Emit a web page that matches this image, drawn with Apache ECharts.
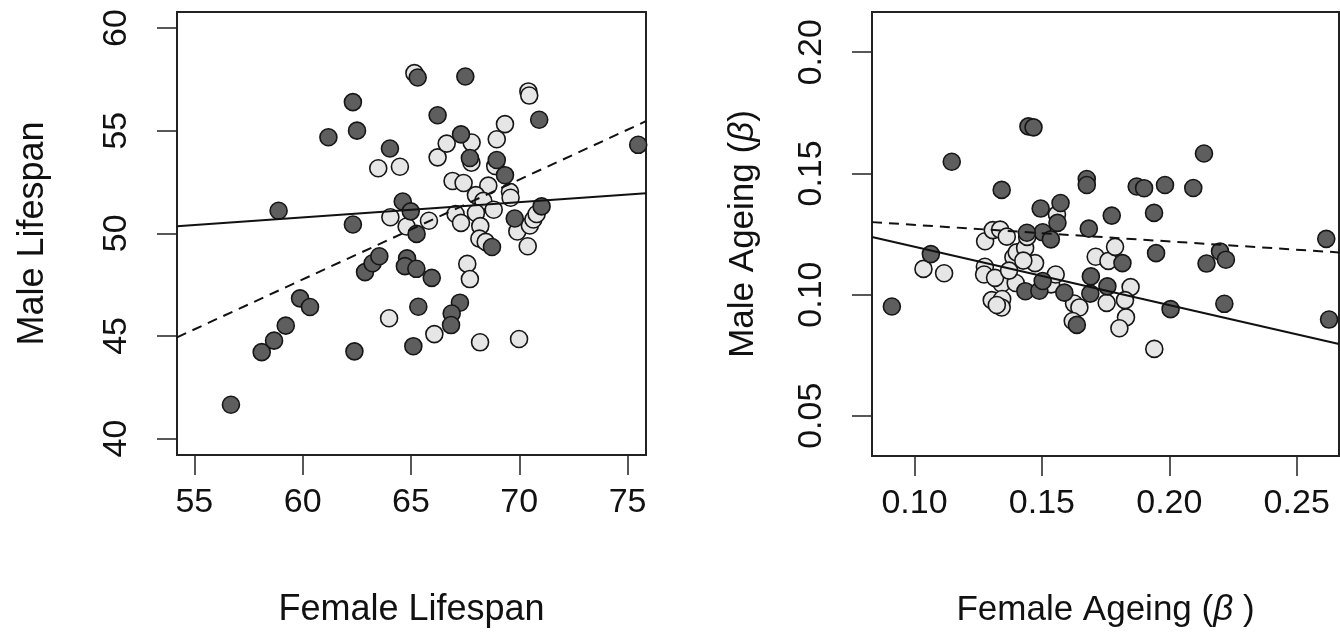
<!DOCTYPE html>
<html>
<head>
<meta charset="utf-8">
<script src="https://cdn.jsdelivr.net/npm/echarts@6/dist/echarts.min.js"></script>
<style>
html,body{margin:0;padding:0;background:#fff;}
#chart{width:1340px;height:633px;}
</style>
</head>
<body>
<div id="chart"></div>
<script>
// ---- Left panel: lifespan ----
const lifespanTicksX = [55, 60, 65, 70, 75];
const lifespanTicksY = [40, 45, 50, 55, 60];
const lifespanDark = [
  [56.69,41.65],[58.11,44.21],[58.68,44.77],[59.22,45.50],[59.88,46.83],[60.34,46.41],
  [58.89,51.10],[61.19,54.68],[62.32,56.39],[62.51,55.00],[62.32,50.43],[62.39,44.25],
  [62.88,48.11],[63.23,48.54],[63.54,48.88],[64.03,54.13],[64.62,51.55],[64.99,51.07],
  [65.26,49.97],[64.82,48.78],[64.72,48.40],[65.25,48.27],[65.96,47.83],[65.34,46.42],
  [65.11,44.50],[65.31,57.59],[67.51,57.64],[66.23,55.75],[67.31,54.82],[67.72,53.67],
  [68.96,53.57],[69.34,52.83],[70.92,55.53],[71.03,51.31],[69.79,50.72],[68.74,49.33],
  [67.26,46.62],[66.88,46.09],[66.85,45.53],[75.49,54.31]
];
const lifespanLight = [
  [63.49,53.17],[64.49,53.24],[66.23,53.70],[66.65,54.37],[67.80,54.42],[68.96,54.58],
  [69.34,55.32],[70.42,56.91],[70.46,56.71],[66.92,52.55],[67.43,52.45],[68.57,52.32],
  [68.00,51.86],[69.57,52.02],[69.60,51.73],[68.34,51.58],[68.82,51.15],[68.00,50.99],
  [67.06,50.94],[67.31,50.51],[68.20,50.35],[68.16,49.74],[68.45,49.58],[69.91,50.09],
  [70.49,50.38],[70.65,50.67],[70.80,50.94],[70.39,49.37],[64.05,50.78],[64.80,50.33],
  [65.83,50.61],[67.60,48.51],[67.72,47.77],[63.99,45.86],[66.08,45.09],[68.19,44.69],
  [69.99,44.85],[65.16,57.80],[67.79,53.44],[68.89,53.28]
];
const lifespanSolidLine = [[54.2,50.34],[75.85,51.95]];
const lifespanDashedLine = [[54.2,44.93],[75.85,55.46]];

// ---- Right panel: ageing rate ----
const ageingTicksX = [0.10, 0.15, 0.20, 0.25];
const ageingTicksY = [0.05, 0.10, 0.15, 0.20];
const ageingDark = [
  [0.0911,0.0951],[0.1064,0.1167],[0.1146,0.1548],[0.1342,0.1432],[0.1447,0.1694],[0.1467,0.1690],
  [0.1495,0.1355],[0.1573,0.1378],[0.1561,0.1296],[0.1503,0.1257],[0.1535,0.1228],[0.1441,0.1255],
  [0.1676,0.1477],[0.1676,0.1452],[0.1684,0.1272],[0.1774,0.1326],[0.1872,0.1446],[0.1901,0.1439],
  [0.1983,0.1452],[0.2094,0.1440],[0.2136,0.1582],[0.1940,0.1337],[0.2616,0.1230],[0.1948,0.1171],
  [0.2199,0.1178],[0.2222,0.1144],[0.2146,0.1128],[0.1816,0.1130],[0.1692,0.1075],[0.1757,0.1034],
  [0.1690,0.1004],[0.1588,0.1008],[0.1435,0.1014],[0.1490,0.1016],[0.1503,0.1056],[0.2005,0.0940],
  [0.2216,0.0962],[0.2627,0.0897],[0.1637,0.0875]
];
const ageingLight = [
  [0.1035,0.1106],[0.1116,0.1088],[0.1277,0.1220],[0.1307,0.1266],[0.1336,0.1268],[0.1362,0.1239],
  [0.1276,0.1115],[0.1273,0.1083],[0.1388,0.1154],[0.1401,0.1174],[0.1434,0.1192],[0.1442,0.1238],
  [0.1473,0.1130],[0.1559,0.1330],[0.1342,0.1045],[0.1316,0.1069],[0.1397,0.1048],[0.1371,0.1099],
  [0.1536,0.1042],[0.1554,0.1083],[0.1303,0.0977],[0.1344,0.0982],[0.1342,0.0947],[0.1626,0.0963],
  [0.1647,0.0947],[0.1621,0.0891],[0.1711,0.1156],[0.1761,0.1139],[0.1787,0.1197],[0.1848,0.1031],
  [0.1826,0.0977],[0.1754,0.0966],[0.1830,0.0906],[0.1804,0.0861],[0.1941,0.0776],[0.1427,0.1140],
  [0.1323,0.0957]
];
const ageingSolidLine = [[0.0833,0.1238],[0.2666,0.0796]];
const ageingDashedLine = [[0.0833,0.1299],[0.2666,0.1174]];

const FONT = 'Liberation Sans';
const TXT = '#111';
const FS = 34;

function nameStyle(fs) {
  return {fontSize: fs, fontFamily: FONT, color: TXT,
    rich: {b: {fontSize: fs, fontFamily: FONT, fontStyle: 'italic', color: TXT}}};
}
function xAxisCfg(grid, min, max, ticks, name, fmt, nfs) {
  return {
    gridIndex: grid, type: 'value', min: min, max: max,
    axisLine: {show: false}, splitLine: {show: false},
    axisTick: {show: true, length: 20, customValues: ticks, lineStyle: {color: '#222', width: 1.5}},
    axisLabel: {customValues: ticks, fontSize: FS, fontFamily: FONT, color: TXT, margin: 31, formatter: fmt},
    name: name, nameLocation: 'middle', nameGap: 137, nameTextStyle: nameStyle(nfs)
  };
}
function yAxisCfg(grid, min, max, ticks, name, fmt, gap, nfs) {
  return {
    gridIndex: grid, type: 'value', min: min, max: max,
    axisLine: {show: false}, splitLine: {show: false},
    axisTick: {show: true, length: 20, customValues: ticks, lineStyle: {color: '#222', width: 1.5}},
    axisLabel: {customValues: ticks, fontSize: FS, fontFamily: FONT, color: TXT, margin: 43, rotate: 90, formatter: fmt},
    name: name, nameLocation: 'middle', nameGap: gap, nameRotate: 90, nameTextStyle: nameStyle(nfs)
  };
}

const darkStyle = {color: '#5e5e5e', borderColor: '#161616', borderWidth: 1.6, opacity: 1};
const lightStyle = {color: '#e6e6e6', borderColor: '#161616', borderWidth: 1.6, opacity: 1};
const f2 = v => v.toFixed(2);
const f0 = v => String(v);

function scatter(xi, data, style, z) {
  return {type: 'scatter', xAxisIndex: xi, yAxisIndex: xi, data: data, symbol: 'circle', symbolSize: 17,
    itemStyle: style, z: z, silent: true, animation: false, emphasis: {disabled: true}};
}
function line(xi, data, type, z) {
  return {type: 'line', xAxisIndex: xi, yAxisIndex: xi, data: data, symbol: 'none', silent: true,
    lineStyle: {color: '#111', width: 2, type: type}, z: z, animation: false};
}

const chart = echarts.init(document.getElementById('chart'), null, {renderer: 'canvas'});
chart.setOption({
  backgroundColor: '#fff',
  animation: false,
  grid: [
    {left: 177, top: 12, width: 469, height: 449, show: true, borderColor: '#222', borderWidth: 2, backgroundColor: 'transparent'},
    {left: 872, top: 12, width: 467, height: 449, show: true, borderColor: '#222', borderWidth: 2, backgroundColor: 'transparent'}
  ],
  xAxis: [
    xAxisCfg(0, 54.2, 75.85, lifespanTicksX, 'Female Lifespan', f0, 36),
    xAxisCfg(1, 0.0833, 0.2666, ageingTicksX, 'Female Ageing ({b|β} )', f2, 35)
  ],
  yAxis: [
    yAxisCfg(0, 39.2, 60.78, lifespanTicksY, 'Male Lifespan', f0, 126, 36),
    yAxisCfg(1, 0.0334, 0.2166, ageingTicksY, 'Male Ageing ({b|β})', f2, 111, 35)
  ],
  series: [
    scatter(0, lifespanLight, lightStyle, 2),
    scatter(0, lifespanDark, darkStyle, 3),
    line(0, lifespanSolidLine, 'solid', 5),
    line(0, lifespanDashedLine, [10, 7], 5),
    scatter(1, ageingLight, lightStyle, 2),
    scatter(1, ageingDark, darkStyle, 3),
    line(1, ageingSolidLine, 'solid', 5),
    line(1, ageingDashedLine, [10, 7], 5)
  ]
});
</script>
</body>
</html>
